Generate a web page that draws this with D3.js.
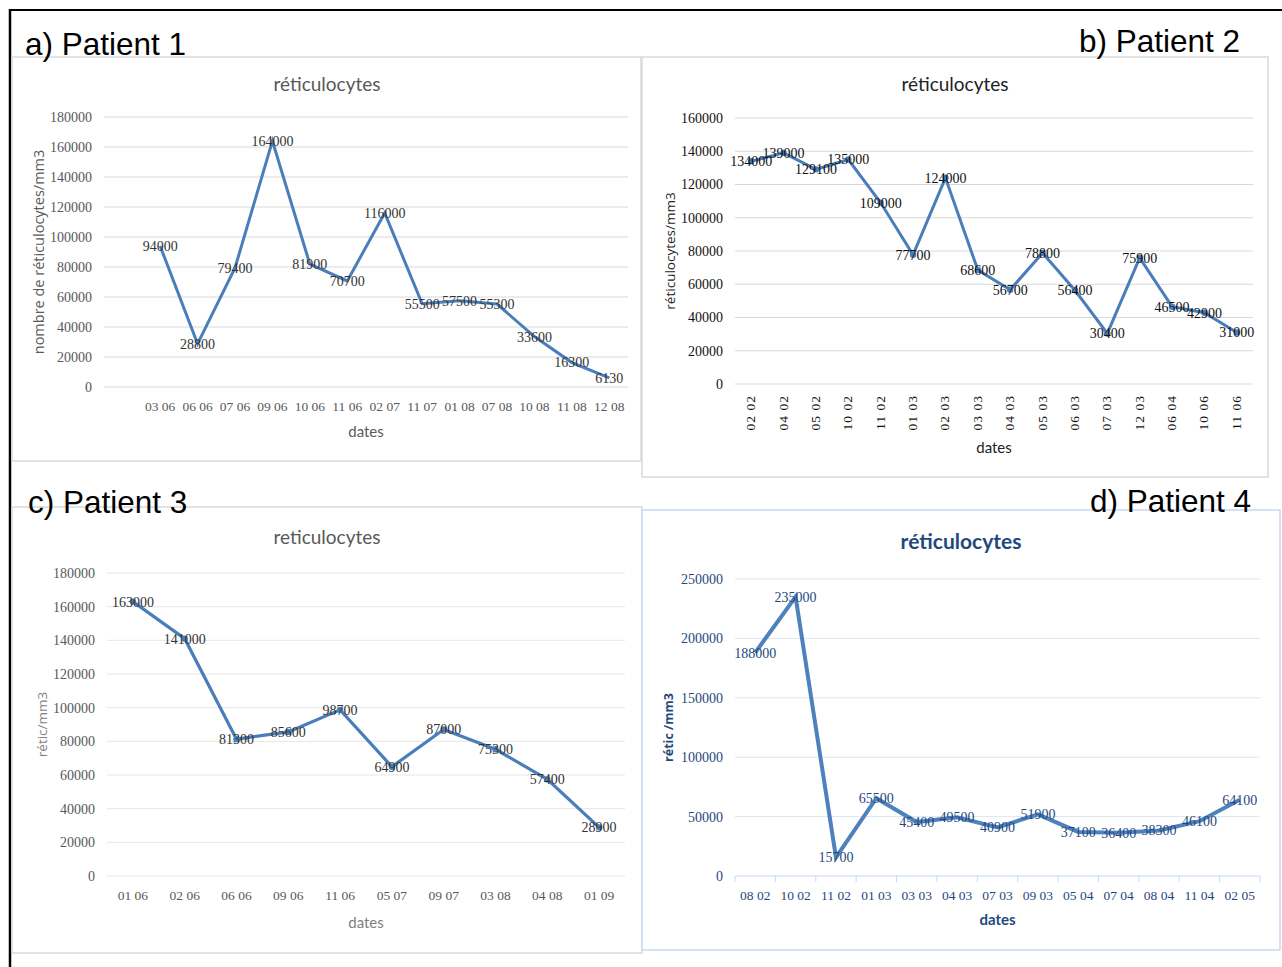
<!DOCTYPE html>
<html><head><meta charset="utf-8">
<script src="https://cdn.jsdelivr.net/npm/d3@7"></script>
<style>body{margin:0;background:#fff;} svg{display:block}</style>
</head><body>
<svg id="c" width="1282" height="967"></svg>
<script>
// ---------- data ----------
const p1Dates  = ["", "03 06","06 06","07 06","09 06","10 06","11 06","02 07","11 07","01 08","07 08","10 08","11 08","12 08"];
const p1Values = [null, 94000, 28800, 79400, 164000, 81900, 70700, 116000, 55500, 57500, 55300, 33600, 16300, 6130];
const p1Ticks  = [0, 20000, 40000, 60000, 80000, 100000, 120000, 140000, 160000, 180000];

const p2Dates  = ["02 02","04 02","05 02","10 02","11 02","01 03","02 03","03 03","04 03","05 03","06 03","07 03","12 03","06 04","10 06","11 06"];
const p2Values = [134000, 139000, 129100, 135000, 109000, 77700, 124000, 68600, 56700, 78800, 56400, 30400, 75900, 46500, 42900, 31000];
const p2Ticks  = [0, 20000, 40000, 60000, 80000, 100000, 120000, 140000, 160000];

const p3Dates  = ["01 06","02 06","06 06","09 06","11 06","05 07","09 07","03 08","04 08","01 09"];
const p3Values = [163000, 141000, 81300, 85600, 98700, 64900, 87000, 75300, 57400, 28900];
const p3Ticks  = [0, 20000, 40000, 60000, 80000, 100000, 120000, 140000, 160000, 180000];

const p4Dates  = ["08 02","10 02","11 02","01 03","03 03","04 03","07 03","09 03","05 04","07 04","08 04","11 04","02 05"];
const p4Values = [188000, 235000, 15700, 65500, 45400, 49500, 40900, 51900, 37100, 36400, 38300, 46100, 64100];
const p4Ticks  = [0, 50000, 100000, 150000, 200000, 250000];

const panelLabels = ["a) Patient 1", "b) Patient 2", "c) Patient 3", "d) Patient 4"];
const chartTitles = ["réticulocytes", "réticulocytes", "reticulocytes", "réticulocytes"];
const yTitles = ["nombre de réticulocytes/mm3", "réticulocytes/mm3", "rétic/mm3", "rétic /mm3"];
const xTitle = "dates";

// ---------- drawing ----------
const svg = d3.select("#c");
const SERIF = "'Liberation Serif', 'DejaVu Serif', serif";
const SANS = "Lato, 'Open Sans', sans-serif";

// outer frame
svg.append("line").attr("x1",10).attr("y1",10).attr("x2",1282).attr("y2",10).attr("stroke","#000").attr("stroke-width",2);
svg.append("line").attr("x1",10).attr("y1",9).attr("x2",10).attr("y2",967).attr("stroke","#000").attr("stroke-width",2.5);

function panel(o) {
  const g = svg.append("g");
  g.append("rect").attr("x",o.box[0]).attr("y",o.box[1]).attr("width",o.box[2]).attr("height",o.box[3])
    .attr("fill","#fff").attr("stroke",o.border).attr("stroke-width",1.5);

  const x = d3.scaleBand().domain(o.dates).range([o.left, o.right]);
  const y = d3.scaleLinear().domain([0, o.ymax]).range([o.bottom, o.top]);

  // title
  g.append("text").attr("x",o.titleX).attr("y",o.titleY).attr("text-anchor","middle")
    .attr("font-family",SANS).attr("font-size",o.titleSize).attr("font-weight",o.titleWeight||"normal")
    .attr("fill",o.titleColor).text(o.title);

  // grid
  g.selectAll(".grid").data(o.ticks).join("line")
    .attr("x1",o.left).attr("x2",o.right)
    .attr("y1",d=>y(d)).attr("y2",d=>y(d))
    .attr("stroke",d=> (d===0 && o.axisColor) ? o.axisColor : o.gridColor).attr("stroke-width",1);

  // y tick labels
  g.selectAll(".yt").data(o.ticks).join("text")
    .attr("x",o.left-12).attr("y",d=>y(d)).attr("dy","0.35em").attr("text-anchor","end")
    .attr("font-family",SERIF).attr("font-size",14).attr("fill",o.tickColor).text(d=>d);

  // x tick marks (panel d)
  if (o.xTickMarks) {
    const bounds = o.dates.map(d=>x(d)).concat([o.right]);
    g.selectAll(".xtm").data(bounds).join("line")
      .attr("x1",d=>d).attr("x2",d=>d).attr("y1",o.bottom).attr("y2",o.bottom+6)
      .attr("stroke",o.axisColor).attr("stroke-width",1);
  }

  // x labels
  const xl = g.selectAll(".xl").data(o.dates.filter(d=>d!=="")).join("text")
    .attr("font-family",SERIF).attr("font-size",13.5).attr("fill",o.tickColor).text(d=>d);
  if (o.rotate) {
    xl.attr("transform",d=>`translate(${x(d)+x.bandwidth()/2+4},${o.bottom+11}) rotate(-90)`)
      .attr("text-anchor","end").attr("letter-spacing","1px");
  } else {
    xl.attr("x",d=>x(d)+x.bandwidth()/2).attr("y",o.bottom+24).attr("text-anchor","middle");
  }

  // line
  const pts = o.dates.map((d,i)=>({d, v:o.values[i]}));
  const line = d3.line().defined(p=>p.v!=null).x(p=>x(p.d)+x.bandwidth()/2).y(p=>y(p.v));
  g.append("path").datum(pts).attr("d",line).attr("fill","none")
    .attr("stroke",o.lineColor).attr("stroke-width",o.lineWidth).attr("stroke-linejoin","miter");

  if (o.markers) {
    g.selectAll(".mk").data(pts.filter(p=>p.v!=null)).join("circle")
      .attr("cx",p=>x(p.d)+x.bandwidth()/2).attr("cy",p=>y(p.v)).attr("r",3.2).attr("fill",o.lineColor);
  }

  // data labels
  g.selectAll(".dl").data(pts.filter(p=>p.v!=null)).join("text")
    .attr("x",p=>x(p.d)+x.bandwidth()/2).attr("y",p=>y(p.v)).attr("dy","0.35em").attr("text-anchor","middle")
    .attr("font-family",SERIF).attr("font-size",14).attr("fill",o.labelColor).text(p=>p.v);

  // axis titles
  g.append("text").attr("transform",`translate(${o.yTitleX},${(o.top+o.bottom)/2}) rotate(-90)`)
    .attr("text-anchor","middle").attr("font-family","'Open Sans', sans-serif").attr("font-size",o.yTitleSize)
    .attr("font-weight",o.titleWeight||"normal").attr("fill",o.yTitleColor).text(o.yTitle);
  g.append("text").attr("x",(o.left+o.right)/2).attr("y",o.xTitleY).attr("text-anchor","middle")
    .attr("font-family",SANS).attr("font-size",15).attr("font-weight",o.titleWeight||"normal")
    .attr("fill",o.yTitleColor).text(xTitle);
}

panel({box:[12,57,629,404], left:104, right:628, top:117, bottom:387, ymax:180000,
  dates:p1Dates, values:p1Values, ticks:p1Ticks, title:chartTitles[0], titleX:327, titleY:91, titleSize:19,
  titleColor:"#595959", gridColor:"#d9d9d9", tickColor:"#595959", labelColor:"#333",
  lineColor:"#4a7ebb", lineWidth:3, border:"#d9d9d9",
  yTitle:yTitles[0], yTitleX:44, yTitleSize:14.5, yTitleColor:"#595959", xTitleY:437});

panel({box:[642,57,626,420], left:735, right:1253, top:118, bottom:384, ymax:160000,
  dates:p2Dates, values:p2Values, ticks:p2Ticks, title:chartTitles[1], titleX:955, titleY:91, titleSize:19,
  titleColor:"#222", gridColor:"#d9d9d9", tickColor:"#111", labelColor:"#111",
  lineColor:"#4a7ebb", lineWidth:3, border:"#d9d9d9", markers:true, rotate:true,
  yTitle:yTitles[1], yTitleX:675, yTitleSize:13.5, yTitleColor:"#222", xTitleY:453});

panel({box:[12,507,630,446], left:107, right:625, top:573, bottom:876, ymax:180000,
  dates:p3Dates, values:p3Values, ticks:p3Ticks, title:chartTitles[2], titleX:327, titleY:544, titleSize:19,
  titleColor:"#595959", gridColor:"#e6e6e6", tickColor:"#595959", labelColor:"#333",
  lineColor:"#4a7ebb", lineWidth:3.2, border:"#d9d9d9", markers:true,
  yTitle:yTitles[2], yTitleX:47, yTitleSize:13.5, yTitleColor:"#7f7f7f", xTitleY:928});

panel({box:[642,510,638,440], left:735, right:1260, top:579, bottom:876, ymax:250000,
  dates:p4Dates, values:p4Values, ticks:p4Ticks, title:chartTitles[3], titleX:961, titleY:549, titleSize:21,
  titleWeight:"bold", titleColor:"#1f497d", gridColor:"#dce6f2", axisColor:"#c6d9f1", tickColor:"#1f497d",
  labelColor:"#1f497d", lineColor:"#4f81bd", lineWidth:4, border:"#c6d9f1", xTickMarks:true,
  yTitle:yTitles[3], yTitleX:673, yTitleSize:12.5, yTitleColor:"#1f497d", xTitleY:925});

// panel letters
const LBL = "'Liberation Sans', Arial, sans-serif";
svg.append("text").attr("x",25).attr("y",55).attr("font-family",LBL).attr("font-size",31.5).text(panelLabels[0]);
svg.append("text").attr("x",1240).attr("y",52).attr("text-anchor","end").attr("font-family",LBL).attr("font-size",31.5).text(panelLabels[1]);
svg.append("text").attr("x",28).attr("y",513).attr("font-family",LBL).attr("font-size",31.5).text(panelLabels[2]);
svg.append("text").attr("x",1251).attr("y",512).attr("text-anchor","end").attr("font-family",LBL).attr("font-size",31.5).text(panelLabels[3]);
</script>
</body></html>
